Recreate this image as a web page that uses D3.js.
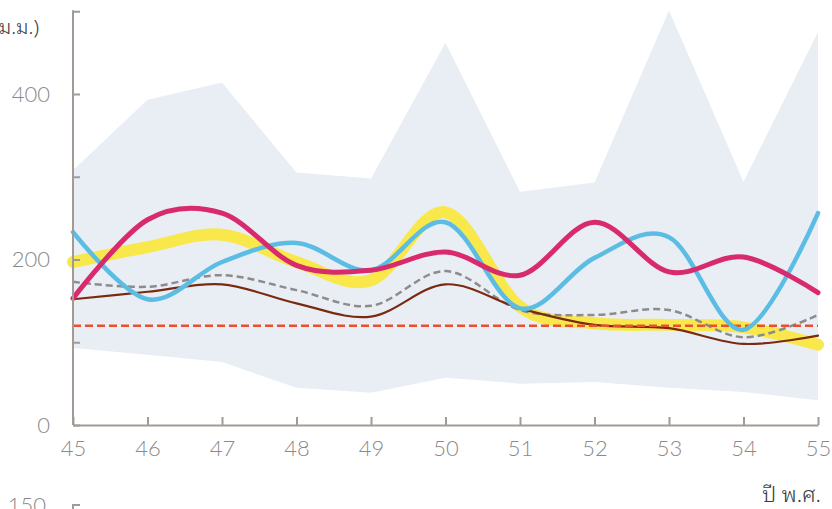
<!DOCTYPE html>
<html>
<head>
<meta charset="utf-8">
<script src="https://cdn.jsdelivr.net/npm/d3@7"></script>
<style>
  html, body { margin: 0; padding: 0; background: #fff; }
  svg { display: block; }
</style>
</head>
<body>
<svg id="chart" width="832" height="509"></svg>
<script>
// Rainfall by year (พ.ศ. 2545–2555), millimetres
const years = [45, 46, 47, 48, 49, 50, 51, 52, 53, 54, 55];
const rangeMax = [308, 393, 414, 305, 298, 462, 282, 293, 501, 294, 475];
const rangeMin = [93, 85, 76, 45, 39, 57, 50, 52, 45, 40, 30];
const seriesYellow = [197, 215, 230, 197, 175, 257, 143, 123, 121, 118, 97];
const seriesGray = [173, 167, 181, 163, 144, 186, 139, 133, 139, 106, 133];
const seriesBrown = [152, 161, 170, 147, 131, 170, 141, 121, 117, 98, 108];
const seriesBlue = [233, 152, 197, 220, 187, 245, 141, 202, 227, 115, 256];
const seriesPink = [153, 248, 256, 193, 187, 209, 181, 245, 185, 203, 160];
const referenceLevel = 120;
const yTicks = [0, 100, 200, 300, 400, 500];
const yLabels = [0, 200, 400];

const svg = d3.select("#chart");
const x = d3.scaleLinear().domain([45, 55]).range([73, 818]);
const y = d3.scaleLinear().domain([0, 500]).range([425, 11.25]);

const band = d3.area()
  .x((d, i) => x(years[i]))
  .y0((d, i) => y(rangeMin[i]))
  .y1(d => y(d));
svg.append("path")
  .datum(rangeMax)
  .attr("d", band)
  .attr("fill", "#e9eef5");

const smooth = d3.line()
  .x((d, i) => x(years[i]))
  .y(d => y(d))
  .curve(d3.curveCatmullRom.alpha(0));

function drawLine(values, color, width, dash) {
  const p = svg.append("path")
    .datum(values)
    .attr("d", smooth)
    .attr("fill", "none")
    .attr("stroke", color)
    .attr("stroke-width", width)
    .attr("stroke-linejoin", "round")
    .attr("stroke-linecap", dash ? "butt" : "round");
  if (dash) p.attr("stroke-dasharray", dash);
}

drawLine(seriesYellow, "#f8e84c", 12);
drawLine(seriesGray, "#8e8b8a", 2.5, "7,4");
drawLine(seriesBrown, "#7b2a12", 2.2);

svg.append("line")
  .attr("x1", x(45)).attr("x2", x(55))
  .attr("y1", y(referenceLevel)).attr("y2", y(referenceLevel))
  .attr("stroke", "#e8502e")
  .attr("stroke-width", 2.5)
  .attr("stroke-dasharray", "8,4");

drawLine(seriesBlue, "#5cbde4", 4.5);
drawLine(seriesPink, "#d82a6c", 5);

// Axes
const axisColor = "#a29a96";
const labelFont = "Lato, 'Open Sans', sans-serif";
const labelColor = "#8a8a8a";

function styleLabels(sel) {
  sel.attr("fill", labelColor)
    .style("font-family", labelFont)
    .style("font-weight", 300)
    .style("font-size", "22px");
}

const yAxis = svg.append("g")
  .attr("transform", `translate(${x(45)},0)`)
  .call(d3.axisLeft(y).tickValues(yTicks).tickSize(-7).tickSizeOuter(0)
    .tickPadding(23)
    .tickFormat(d => yLabels.includes(d) ? d : ""));
yAxis.select(".domain").attr("stroke", axisColor).attr("stroke-width", 2)
  .attr("d", `M0,${y(500) - 1}V${y(0)}`);
yAxis.selectAll(".tick line").attr("stroke", axisColor).attr("stroke-width", 2);
styleLabels(yAxis.selectAll(".tick text"));

const xAxis = svg.append("g")
  .attr("transform", `translate(0,${y(0)})`)
  .call(d3.axisBottom(x).tickValues(years).tickSize(-8).tickSizeOuter(0)
    .tickPadding(15).tickFormat(d => d));
xAxis.select(".domain").attr("stroke", axisColor).attr("stroke-width", 2);
xAxis.selectAll(".tick line").attr("stroke", axisColor).attr("stroke-width", 2);
styleLabels(xAxis.selectAll(".tick text"));

// Unit and axis titles
const thaiFont = "'Noto Sans Thai Looped', 'Noto Serif Thai', 'Noto Sans Thai', 'Noto Sans', sans-serif";
svg.append("text")
  .attr("x", 39).attr("y", 34)
  .attr("text-anchor", "end")
  .attr("fill", "#3a3a3a")
  .style("font-family", thaiFont)
  .style("font-weight", 300)
  .style("font-size", "20px")
  .text("(ม.ม.)");

svg.append("text")
  .attr("x", 821).attr("y", 502)
  .attr("text-anchor", "end")
  .attr("fill", "#3a3a3a")
  .style("font-family", thaiFont)
  .style("font-weight", 300)
  .style("font-size", "22px")
  .text("ปี พ.ศ.");

// Top of the next panel's axis
svg.append("text")
  .attr("x", 46).attr("y", 513)
  .attr("text-anchor", "end")
  .attr("fill", labelColor)
  .style("font-family", labelFont)
  .style("font-weight", 300)
  .style("font-size", "22px")
  .text("150");
svg.append("path")
  .attr("d", `M${x(45) + 7},505H${x(45)}V512`)
  .attr("fill", "none")
  .attr("stroke", axisColor)
  .attr("stroke-width", 2);
</script>
</body>
</html>
